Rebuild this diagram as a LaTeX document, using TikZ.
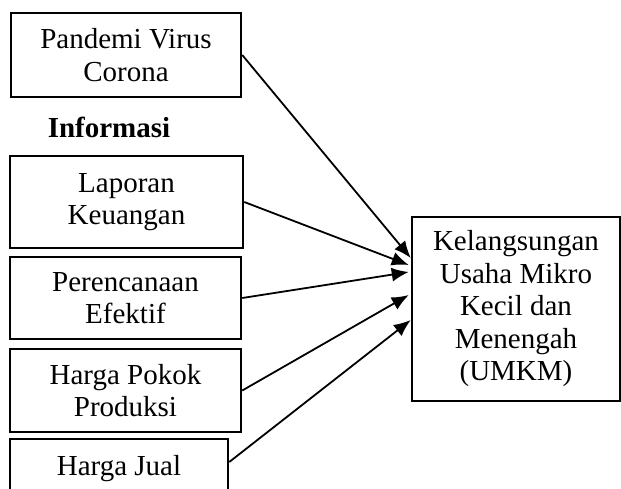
\documentclass[tikz,border=0pt]{standalone}
\usepackage{fontspec}
\setmainfont{Liberation Serif}
\usetikzlibrary{positioning, arrows.meta, calc}
\tikzset{
  box/.style={draw, line width=2.5, inner sep=0, align=center,
    font=\fontsize{29}{32.5}\selectfont},
  label/.style={draw=none, inner sep=0, font=\fontsize{29}{32.5}\selectfont\bfseries},
  arr/.style={-{Latex[length=17pt,width=14pt]}, line width=1.8}
}

\begin{document}
\begin{tikzpicture}[x=1pt,y=-1pt]

\clip (0,0) rectangle (621,488);

\node [box, minimum width=230, minimum height=84] (pandemi) at (126,55) {Pandemi Virus\\Corona};

\node [label] (informasi) at (109,127) {Informasi};

\node [box, minimum width=233, minimum height=92] (laporan) at (126.5,202) {Laporan\\Keuangan};
\node [box, minimum width=231, minimum height=82] (rencana) at (125.5,298) {Perencanaan\\Efektif};
\node [box, minimum width=231, minimum height=83] (pokok) at (125.5,390.5) {Harga Pokok\\Produksi};
\node [box, minimum width=218, minimum height=60] (jual) at (119,469) {Harga Jual};

\node [box, minimum width=208, minimum height=184] (umkm) at (516,309)
  {Kelangsungan\\Usaha Mikro\\Kecil dan\\Menengah\\(UMKM)};

%arrows to UMKM
\draw[arr] (pandemi.east) -- ([yshift=51pt]umkm.west);
\draw[arr] (laporan.east) -- ([yshift=44pt,xshift=-2pt]umkm.west);
\draw[arr] (rencana.east) -- ([yshift=37pt,xshift=-2pt]umkm.west);
\draw[arr] (pokok.east) -- ([yshift=14pt,xshift=-2pt]umkm.west);
\draw[arr] ([yshift=7pt]jual.east) -- ([yshift=-11pt]umkm.west);

\end{tikzpicture}
\end{document}
